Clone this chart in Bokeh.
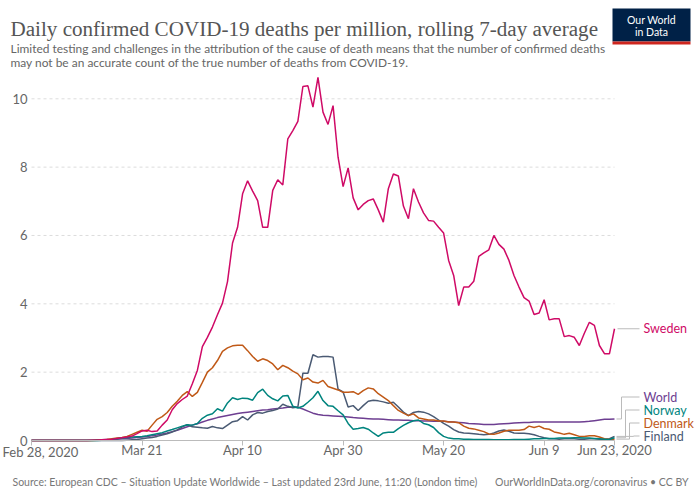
import numpy as np
import pandas as pd
from bokeh.plotting import figure
from bokeh.models import Range1d, FixedTicker, Label
from bokeh.core.properties import value
from bokeh.embed import file_html
from bokeh.resources import INLINE

# ---- data: daily confirmed COVID-19 deaths per million, 7-day rolling average ----
dates = pd.date_range("2020-02-28", "2020-06-23", freq="D")

sweden = [
    0, 0, 0, 0, 0, 0, 0, 0, 0, 0,
    0, 0, 0.01, 0.01, 0.02, 0.03, 0.04, 0.06, 0.08, 0.1,
    0.13, 0.2, 0.28, 0.3, 0.26, 0.28, 0.45, 0.6, 0.9, 1.08,
    1.2, 1.3, 1.66, 2.05, 2.75, 3.02, 3.32, 3.68, 4.02, 4.65,
    5.78, 6.24, 7.22, 7.6, 7.3, 7.02, 6.24, 6.24, 7.32, 7.63,
    7.48, 8.83, 9.07, 9.34, 10.36, 10.38, 9.76, 10.63, 9.61, 9.25,
    9.8, 8.29, 7.43, 7.98, 7.1, 6.75, 6.91, 7.02, 7.07, 6.75,
    6.39, 7.37, 7.8, 7.74, 6.86, 6.49, 7.37, 6.98, 6.66, 6.44,
    6.42, 6.24, 6.07, 5.27, 4.83, 3.95, 4.49, 4.49, 4.66, 5.39,
    5.49, 5.58, 6.0, 5.74, 5.6, 5.27, 4.83, 4.49, 4.18, 4.08,
    3.69, 3.73, 4.12, 3.53, 3.56, 3.56, 3.04, 3.07, 3.02, 2.78,
    3.14, 3.46, 3.37, 2.78, 2.54, 2.54, 3.27,
]
denmark = [
    0, 0, 0, 0, 0, 0, 0, 0, 0, 0,
    0, 0, 0, 0.01, 0.02, 0.03, 0.05, 0.07, 0.09, 0.12,
    0.18, 0.24, 0.3, 0.27, 0.45, 0.62, 0.7, 0.82, 1.0, 1.15,
    1.32, 1.43, 1.29, 1.41, 1.7, 2.0, 2.13, 2.34, 2.61, 2.71,
    2.77, 2.79, 2.79, 2.63, 2.46, 2.32, 2.39, 2.34, 2.24, 2.07,
    2.2, 2.13, 2.03, 1.95, 1.78, 1.83, 1.71, 1.68, 1.76, 1.58,
    1.53, 1.48, 1.41, 1.41, 1.43, 1.35, 1.46, 1.54, 1.51, 1.37,
    1.27, 1.17, 1.02, 0.88, 0.8, 0.73, 0.78, 0.66, 0.63, 0.6,
    0.6, 0.57, 0.57, 0.54, 0.54, 0.52, 0.42, 0.36, 0.34, 0.3,
    0.26, 0.19, 0.18, 0.22, 0.27, 0.3, 0.3, 0.3, 0.32, 0.42,
    0.38, 0.42, 0.35, 0.33, 0.25, 0.22, 0.18, 0.21, 0.17, 0.12,
    0.12, 0.14, 0.14, 0.1, 0.05, 0.03, 0.04,
]
norway = [
    0, 0, 0, 0, 0, 0, 0, 0, 0, 0,
    0, 0, 0, 0, 0.01, 0.02, 0.03, 0.05, 0.07, 0.09,
    0.1, 0.11, 0.12, 0.14, 0.17, 0.2, 0.23, 0.28, 0.32, 0.37,
    0.42, 0.46, 0.45, 0.5, 0.65, 0.74, 0.78, 0.93, 0.86, 1.1,
    1.25, 1.2, 1.24, 1.23, 1.18, 1.4, 1.5, 1.32, 1.22, 1.16,
    1.3, 1.32, 1.0, 0.95, 1.0, 1.12, 1.25, 1.44, 1.17, 1.02,
    1.0, 0.87, 0.75, 0.5, 0.33, 0.35, 0.38, 0.33, 0.22, 0.12,
    0.22, 0.24, 0.24, 0.35, 0.44, 0.52, 0.58, 0.6, 0.5, 0.46,
    0.38, 0.23, 0.12, 0.07, 0.05, 0.05, 0.04, 0.04, 0.03, 0.03,
    0.03, 0.03, 0.02, 0.02, 0.02, 0.02, 0.03, 0.03, 0.03, 0.04,
    0.05, 0.05, 0.06, 0.06, 0.06, 0.07, 0.07, 0.07, 0.08, 0.08,
    0.07, 0.07, 0.06, 0.05, 0.04, 0.03, 0.08,
]
finland = [
    0, 0, 0, 0, 0, 0, 0, 0, 0, 0,
    0, 0, 0, 0, 0, 0, 0, 0, 0, 0.01,
    0.02, 0.03, 0.05, 0.07, 0.09, 0.12, 0.16, 0.2, 0.25, 0.31,
    0.4, 0.46, 0.4, 0.39, 0.37, 0.36, 0.41, 0.37, 0.35, 0.45,
    0.55, 0.58, 0.7, 0.6, 0.75, 0.82, 0.8, 0.85, 0.88, 0.92,
    1.06, 1.0, 0.96, 0.98, 1.97, 1.97, 2.51, 2.44, 2.46, 2.46,
    2.44, 1.5, 1.42, 0.98, 1.02, 0.88, 1.02, 1.15, 1.18, 1.16,
    1.13, 1.09, 1.12, 0.98, 0.83, 0.73, 0.82, 0.85, 0.83, 0.78,
    0.7, 0.6, 0.5, 0.42, 0.32, 0.25, 0.22, 0.21, 0.2, 0.18,
    0.17, 0.18, 0.22, 0.28, 0.31, 0.27, 0.22, 0.21, 0.21, 0.2,
    0.17, 0.12, 0.08, 0.05, 0.05, 0.04, 0.05, 0.05, 0.05, 0.04,
    0.04, 0.05, 0.05, 0.04, 0.03, 0.05, 0.12,
]
world = [
    0.01, 0.01, 0.01, 0.01, 0.01, 0.01, 0.01, 0.01, 0.01, 0.01,
    0.01, 0.01, 0.01, 0.02, 0.02, 0.03, 0.03, 0.04, 0.05, 0.06,
    0.07, 0.09, 0.1, 0.12, 0.14, 0.16, 0.19, 0.22, 0.26, 0.3,
    0.35, 0.4, 0.45, 0.49, 0.54, 0.59, 0.63, 0.67, 0.7, 0.73,
    0.76, 0.79, 0.81, 0.83, 0.85, 0.87, 0.89, 0.9, 0.92, 0.94,
    0.95, 0.97, 0.98, 0.97, 0.92, 0.86, 0.8, 0.76, 0.74, 0.73,
    0.72, 0.71, 0.7, 0.69, 0.67, 0.66, 0.65, 0.64, 0.63, 0.63,
    0.62, 0.61, 0.6, 0.6, 0.59, 0.59, 0.58, 0.58, 0.57, 0.57,
    0.56, 0.56, 0.56, 0.55, 0.54, 0.53, 0.52, 0.5, 0.49, 0.48,
    0.47, 0.47, 0.47, 0.48, 0.49, 0.5, 0.51, 0.52, 0.53, 0.53,
    0.54, 0.54, 0.54, 0.54, 0.54, 0.54, 0.54, 0.54, 0.54, 0.54,
    0.55, 0.56, 0.58, 0.6, 0.62, 0.62, 0.63,
]

series_names = ["World", "Finland", "Denmark", "Norway", "Sweden"]
series_values = [world, finland, denmark, norway, sweden]
series_colors = ["#6D3E91", "#4A5A73", "#C05917", "#00847E", "#CF0A66"]

x_tick_dates = ["2020-02-28", "2020-03-21", "2020-04-10", "2020-04-30",
                "2020-05-20", "2020-06-09", "2020-06-23"]
x_tick_labels = ["Feb 28, 2020", "Mar 21", "Apr 10", "Apr 30", "May 20", "Jun 9", "Jun 23, 2020"]
y_ticks = [0, 2, 4, 6, 8, 10]

TITLE = "Daily confirmed COVID-19 deaths per million, rolling 7-day average"
SUBTITLE = ["Limited testing and challenges in the attribution of the cause of death means that the number of confirmed deaths",
            "may not be an accurate count of the true number of deaths from COVID-19."]
SOURCE = "Source: European CDC \u2013 Situation Update Worldwide \u2013 Last updated 23rd June, 11:20 (London time)"
CREDIT = "OurWorldInData.org/coronavirus \u2022 CC BY"

# ---- page geometry (pixels) ----
W, H = 700, 494
PLOT_L, PLOT_R = 31, 614      # first and last date
PLOT_B, Y10 = 440, 98.3       # value 0 and value 10

days = np.arange(len(dates))
last = int(days[-1])
px_per_day = (PLOT_R - PLOT_L) / last
px_per_unit = (PLOT_B - Y10) / 10.0


def dx(px):
    return (px - PLOT_L) / px_per_day


def dy(py):
    return (PLOT_B - py) / px_per_unit


# the frame covers the whole page; the axes are pinned inside it
p = figure(width=W, height=H, output_backend="svg", toolbar_location=None,
           x_range=Range1d(dx(0), dx(W)), y_range=Range1d(dy(H), dy(0)),
           min_border=0, min_border_left=0, min_border_right=0,
           min_border_top=0, min_border_bottom=0)
p.outline_line_color = None
p.background_fill_color = "white"
p.border_fill_color = "white"
p.xgrid.visible = False
p.ygrid.visible = False

# dashed horizontal gridlines spanning the dates only
grid_vals = [v for v in y_ticks if v > 0]
p.segment(x0=[0] * len(grid_vals), x1=[last] * len(grid_vals), y0=grid_vals, y1=grid_vals,
          line_color="#dddddd", line_width=1, line_dash="3 3")

for name, vals, col in zip(series_names, series_values, series_colors):
    p.line(days, vals, line_color=col, line_width=1.5)

# x axis along value 0
tick_idx = [int(dates.get_loc(pd.Timestamp(d))) for d in x_tick_dates]
labels = dict(zip(tick_idx, x_tick_labels))
labels[tick_idx[0]] = ""      # first date is drawn flush left below
p.xaxis.fixed_location = 0
p.xaxis.ticker = FixedTicker(ticks=tick_idx)
p.xaxis.major_label_overrides = labels
p.xaxis.bounds = (0, last)
p.xaxis.axis_line_color = "#bbbbbb"
p.xaxis.major_tick_line_color = "#bbbbbb"
p.xaxis.major_tick_out = 5
p.xaxis.major_tick_in = 0
p.xaxis.minor_tick_line_color = None
p.xaxis.major_label_standoff = -4
p.xaxis.major_label_text_font = "Lato"
p.xaxis.major_label_text_font_size = "13px"
p.xaxis.major_label_text_color = "#666666"

# y axis at the first date
p.yaxis.fixed_location = 0
p.yaxis.ticker = FixedTicker(ticks=y_ticks)
p.yaxis.axis_line_color = None
p.yaxis.major_tick_line_color = None
p.yaxis.minor_tick_line_color = None
p.yaxis.major_tick_out = 0
p.yaxis.major_tick_in = 0
p.yaxis.major_label_standoff = 4
p.yaxis.major_label_text_font = "Lato"
p.yaxis.major_label_text_font_size = "13px"
p.yaxis.major_label_text_color = "#666666"

p.add_layout(Label(x=0, y=dy(451), x_offset=-(PLOT_L - 2), text=x_tick_labels[0],
                   text_align="left", text_baseline="middle", text_font="Lato",
                   text_font_size="13px", text_color="#666666"))

# end labels with elbow connectors
label_py = {"Sweden": 328, "World": 396.5, "Norway": 409.5, "Denmark": 422.5, "Finland": 435.5}
elbow_px = {"World": 621, "Norway": 625, "Denmark": 629, "Finland": 633}
cx, cy = [], []
for name, vals in zip(series_names, series_values):
    ly = dy(label_py[name])
    if name == "Sweden":
        cx.append([dx(617), dx(639)])
        cy.append([vals[-1], vals[-1]])
    else:
        ex = dx(elbow_px[name])
        cx.append([dx(616), ex, ex, dx(639)])
        cy.append([vals[-1], vals[-1], ly, ly])
p.multi_line(cx, cy, line_color="#bbbbbb", line_width=1)
p.text(x=[dx(643)] * len(series_names), y=[dy(label_py[n]) for n in series_names],
       text=series_names, text_color=series_colors, text_font=value("Lato"),
       text_font_size="12.5px", text_baseline="middle", text_align="left")

# ---- header ----
p.add_layout(Label(x=dx(10), y=dy(28), text=TITLE, text_font="Liberation Serif", text_font_size="21.1px",
                   text_color="#555555", text_baseline="alphabetic"))
for i, line in enumerate(SUBTITLE):
    p.add_layout(Label(x=dx(10), y=dy(48 + 14 * i), text=line, text_font="Lato", text_font_size="11.95px",
                       text_color="#666666", text_baseline="alphabetic"))
p.quad(left=[dx(612)], right=[dx(690)], top=[dy(8)], bottom=[dy(41)], fill_color="#002147", line_color=None)
p.quad(left=[dx(612)], right=[dx(690)], top=[dy(41)], bottom=[dy(44)], fill_color="#CE261E", line_color=None)
p.text(x=[dx(651)] * 2, y=[dy(19.5), dy(31.5)], text=["Our World", "in Data"], text_align="center",
       text_baseline="middle", text_font=value("Lato"), text_font_size="10.5px", text_color="white")

# ---- footer ----
p.add_layout(Label(x=dx(12), y=dy(481), text=SOURCE, text_font="Lato", text_font_size="10.5px",
                   text_color="#777777", text_baseline="alphabetic"))
p.add_layout(Label(x=dx(688), y=dy(481), text=CREDIT, text_align="right", text_font="Lato",
                   text_font_size="10.5px", text_color="#777777", text_baseline="alphabetic"))

open("out.html", "w").write(file_html(p, INLINE))
